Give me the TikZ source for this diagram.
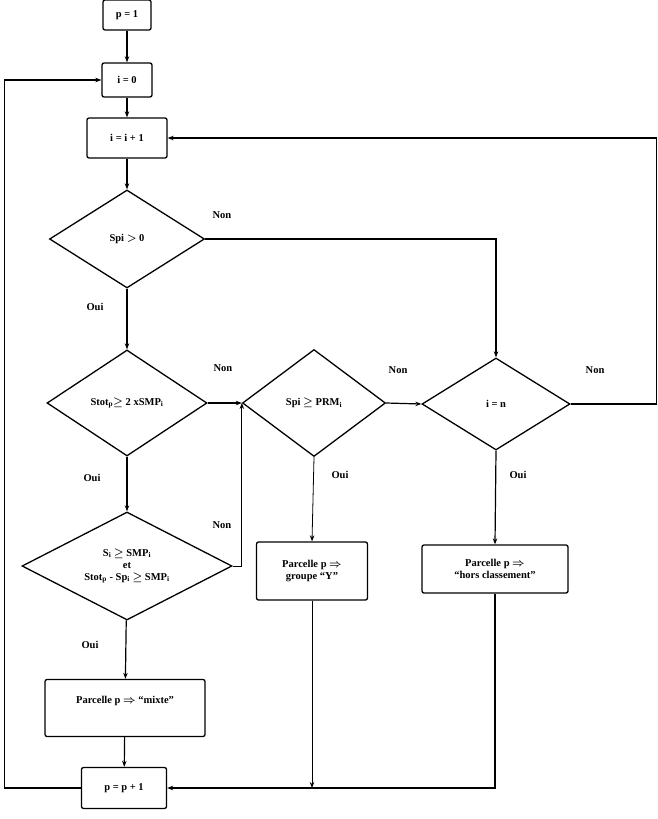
\documentclass[tikz,border=0pt]{standalone}
\usepackage{fontspec}
\setmainfont{Liberation Serif}
\usepackage{tikz}
\usetikzlibrary{shapes.geometric,positioning,arrows.meta}

\begin{document}
\begin{tikzpicture}[x=1pt, y=-1pt, >={Stealth[length=6pt,width=4.5pt]},
		font=\fontsize{10.5}{12}\selectfont\bfseries\boldmath,
		box/.style={draw, line width=1.3pt, rounded corners=2pt, align=center, inner sep=2pt},
		test/.style={draw, diamond, line width=1.3pt, align=center, inner sep=0pt},
		link/.style={line width=1.2pt},
		thinlink/.style={line width=0.8pt}]
			\useasboundingbox (0,0) rectangle (658,819);

			\node[box, minimum width=48pt, minimum height=30pt] (p1) at (127,15) {p = 1};
			\node[box, minimum width=50pt, minimum height=34pt] (i0) at (127,80) {i = 0};
			\node[box, minimum width=80pt, minimum height=40pt] (inc) at (127,138) {i = i + 1};
			\node[test, minimum width=155pt, minimum height=98pt] (spi) at (127,239) {Spi $>$ 0};
			\node[test, minimum width=160pt, minimum height=106pt] (stot) at (127,403) {Stot\textsubscript{p}$\geq$ 2 xSMP\textsubscript{i}};
			\node[test, minimum width=143pt, minimum height=107pt] (prm) at (314,403) {Spi $\geq$ PRM\textsubscript{i}};
			\node[test, minimum width=148pt, minimum height=92pt] (iegn) at (496,404) {i = n};
			\node[test, shape aspect=2, minimum width=210pt, minimum height=108pt] (surf) at (127,566) {S\textsubscript{i} $\geq$ SMP\textsubscript{i}\\ et\\ Stot\textsubscript{p} - Sp\textsubscript{i} $\geq$ SMP\textsubscript{i}};
			\node[box, minimum width=160pt, minimum height=57pt] (mixte) at (125,708) {Parcelle p $\Rightarrow$ ``mixte''\\ \strut};
			\node[box, minimum width=85pt, minimum height=41pt] (pp) at (124,788) {p = p + 1};
			\node[box, minimum width=111pt, minimum height=58pt] (grpY) at (312,571) {Parcelle p $\Rightarrow$\\ groupe ``Y''};
			\node[box, minimum width=146pt, minimum height=48pt] (hors) at (495,569) {Parcelle p $\Rightarrow$\\ ``hors classement''};

			% Oui / Non
			\node (non1) at (222,215) {Non};
			\node (oui1) at (95,307) {Oui};
			\node (non2) at (223,368) {Non};
			\node (oui2) at (92,478) {Oui};
			\node (non3) at (398,370) {Non};
			\node (oui3) at (340,475) {Oui};
			\node (non4) at (595,370) {Non};
			\node (oui4) at (518,475) {Oui};
			\node (non5) at (222,525) {Non};
			\node (oui5) at (90,645) {Oui};

			\draw[link,->] (p1) -- (i0);
			\draw[link,->] (i0) -- (inc);
			\draw[link,->] (inc) -- (spi);
			\draw[link,->] (spi) -- (stot);
			\draw[link,->] (stot) -- (surf);
			\draw[link,->] (surf) -- (mixte);
			\draw[link,->] (mixte) -- (pp);
			\draw[link,->] (spi.east) -| (iegn.north);
			\draw[link,->] (stot.east) -- (prm.west);
			\draw[thinlink,->] (surf.east) -| (prm.west);
			\draw[link,->] (prm.east) -- (iegn.west);
			\draw[thinlink,->] (prm.south) -- (grpY.north);
			\draw[link,->] (iegn.south) -- (hors.north);
			\draw[link,->] (iegn.east) -- ++(86,0) |- (inc.east);
			\draw[thinlink,->] (grpY.south) -- (grpY.south |- pp.east);
			\draw[link,->] (hors.south) |- (pp.east);
			\draw[link,->] (pp.west) -- ++(-76,0) |- (i0.west);
		\end{tikzpicture}
\end{document}
